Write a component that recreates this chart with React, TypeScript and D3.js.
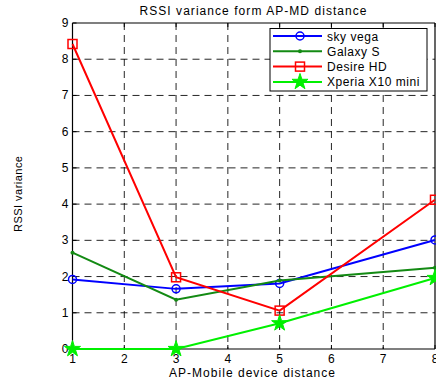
import React from "react";
import * as d3 from "d3";

const xValues = [1, 3, 5, 8];
const skyVega = [1.92, 1.66, 1.81, 3.01];
const galaxyS = [2.66, 1.36, 1.89, 2.24];
const desireHD = [8.42, 1.98, 1.06, 4.12];
const xperia = [0, 0, 0.71, 1.96];
const xTicks = [1, 2, 3, 4, 5, 6, 7, 8];
const yTicks = [0, 1, 2, 3, 4, 5, 6, 7, 8, 9];
const seriesNames = ["sky vega", "Galaxy S", "Desire HD", "Xperia X10 mini"];

const W = 436, H = 382;
const left = 72.5, right = 435, top = 23, bottom = 349;

export default function App() {
  const x = d3.scaleLinear().domain([1, 8]).range([left, right]);
  const y = d3.scaleLinear().domain([0, 9]).range([bottom, top]);
  const line = d3.line<[number, number]>().x(d => x(d[0])).y(d => y(d[1]));
  const series = [
    { name: seriesNames[0], vals: skyVega, color: "#0000ff", marker: "circle" },
    { name: seriesNames[1], vals: galaxyS, color: "#138a13", marker: "dot" },
    { name: seriesNames[2], vals: desireHD, color: "#ff0000", marker: "square" },
    { name: seriesNames[3], vals: xperia, color: "#00f000", marker: "star" },
  ];
  const star = d3.symbol().type(d3.symbolStar).size(80)() as string;
  const marker = (m: string, cx: number, cy: number, color: string, key: any) => {
    if (m === "circle") return <circle key={key} cx={cx} cy={cy} r={4} fill="none" stroke={color} strokeWidth={1.5} />;
    if (m === "dot") return <circle key={key} cx={cx} cy={cy} r={2} fill={color} />;
    if (m === "square") return <rect key={key} x={cx - 4.5} y={cy - 4.5} width={9} height={9} fill="none" stroke={color} strokeWidth={1.5} />;
    return <path key={key} d={star} transform={`translate(${cx},${cy})`} fill={color} stroke={color} strokeWidth={1} />;
  };
  const font = "Liberation Sans, Arial, sans-serif";
  const legX = 270, legY = 28.5, legW = 157, legH = 62.5;
  return (
    <svg width={W} height={H} style={{ position: "absolute", left: 0, top: 0, background: "#fff" }} fontFamily={font}>
      <rect x={0} y={0} width={W} height={H} fill="#fff" />
      {/* grid */}
      {xTicks.slice(1, -1).map(t => (
        <line key={"gx" + t} x1={x(t)} x2={x(t)} y1={top} y2={bottom} stroke="#000" strokeDasharray="7,5" strokeWidth={1} opacity={0.85} />
      ))}
      {yTicks.slice(1, -1).map(t => (
        <line key={"gy" + t} x1={left} x2={right} y1={y(t)} y2={y(t)} stroke="#000" strokeDasharray="7,5" strokeWidth={1} opacity={0.85} />
      ))}
      {/* axes box */}
      <line x1={left} x2={right} y1={top} y2={top} stroke="#000" strokeWidth={1.2} />
      <line x1={left} x2={right} y1={bottom} y2={bottom} stroke="#000" strokeWidth={1.2} />
      <line x1={left} x2={left} y1={top} y2={bottom} stroke="#000" strokeWidth={1.2} />
      <line x1={right} x2={right} y1={top} y2={bottom} stroke="#000" strokeWidth={1.2} />
      {/* ticks */}
      {xTicks.map(t => (
        <g key={"tx" + t}>
          <line x1={x(t)} x2={x(t)} y1={bottom} y2={bottom - 4} stroke="#000" />
          <line x1={x(t)} x2={x(t)} y1={top} y2={top + 4} stroke="#000" />
          <text x={x(t)} y={bottom + 13.5} textAnchor="middle" fontSize={12}>{t}</text>
        </g>
      ))}
      {yTicks.map(t => (
        <g key={"ty" + t}>
          <line x1={left} x2={left + 4} y1={y(t)} y2={y(t)} stroke="#000" />
          <text x={left - 4} y={y(t) + 4} textAnchor="end" fontSize={12}>{t}</text>
        </g>
      ))}
      {/* series */}
      {series.map((s, i) => (
        <g key={"s" + i}>
          <path d={line(xValues.map((v, j) => [v, s.vals[j]] as [number, number])) as string} fill="none" stroke={s.color} strokeWidth={2} />
          {xValues.map((v, j) => marker(s.marker, x(v), y(s.vals[j]), s.color, j))}
        </g>
      ))}
      {/* legend */}
      <rect x={legX} y={legY} width={legW} height={legH} fill="#fff" stroke="#000" strokeWidth={1} />
      {series.map((s, i) => {
        const ly = legY + 7.5 + i * 15.3;
        return (
          <g key={"l" + i}>
            <line x1={legX + 3} x2={legX + 52} y1={ly} y2={ly} stroke={s.color} strokeWidth={2} />
            {marker(s.marker, legX + 30, ly, s.color, "m")}
            <text x={legX + 57} y={ly + 4.5} fontSize={12} letterSpacing={0.55}>{s.name}</text>
          </g>
        );
      })}
      {/* labels */}
      <text x={253} y={15} textAnchor="middle" fontSize={12} textLength={227} lengthAdjust="spacing">RSSI variance form AP-MD distance</text>
      <text x={252} y={377} textAnchor="middle" fontSize={12} textLength={166} lengthAdjust="spacing">AP-Mobile device distance</text>
      <text transform={`translate(22,${194}) rotate(-90)`} textAnchor="middle" fontSize={11} textLength={76} lengthAdjust="spacing">RSSI variance</text>
    </svg>
  );
}
